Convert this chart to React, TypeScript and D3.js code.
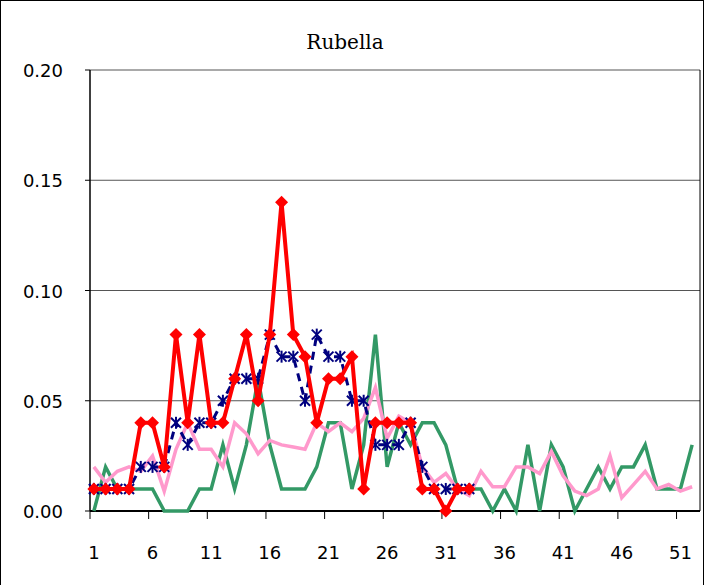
import React from "react";
import * as d3 from "d3";

const weeks = d3.range(1, 53);
const red = [0.01,0.01,0.01,0.01,0.04,0.04,0.02,0.08,0.04,0.08,0.04,0.04,0.06,0.08,0.05,0.08,0.14,0.08,0.07,0.04,0.06,0.06,0.07,0.01,0.04,0.04,0.04,0.04,0.01,0.01,0.0,0.01,0.01];
const blue = [0.01,0.01,0.01,0.01,0.02,0.02,0.02,0.04,0.03,0.04,0.04,0.05,0.06,0.06,0.06,0.08,0.07,0.07,0.05,0.08,0.07,0.07,0.05,0.05,0.03,0.03,0.03,0.04,0.02,0.01,0.01,0.01,0.01];
const green = [0,0.02,0.01,0.01,0.01,0.01,0,0,0,0.01,0.01,0.03,0.01,0.03,0.06,0.03,0.01,0.01,0.01,0.02,0.04,0.04,0.01,0.03,0.08,0.02,0.04,0.03,0.04,0.04,0.03,0.01,0.01,0.01,0,0.01,0,0.03,0,0.03,0.02,0,0.01,0.02,0.01,0.02,0.02,0.03,0.01,0.01,0.01,0.03];
const pink = [0.02,0.013,0.018,0.02,0.018,0.025,0.009,0.028,0.04,0.028,0.028,0.02,0.04,0.035,0.026,0.032,0.03,0.029,0.028,0.04,0.036,0.04,0.036,0.042,0.056,0.033,0.043,0.04,0.02,0.013,0.017,0.01,0.007,0.018,0.011,0.011,0.02,0.02,0.017,0.027,0.016,0.009,0.007,0.01,0.025,0.006,0.012,0.018,0.01,0.012,0.009,0.011];
const yTicks = [0, 0.05, 0.1, 0.15, 0.2];
const xLabels = [1, 6, 11, 16, 21, 26, 31, 36, 41, 46, 51];

const L = 90, R = 700, T = 70, B = 511;
const sans = "'DejaVu Sans', sans-serif";

export default function App() {
  const band = d3.scaleBand<number>().domain(weeks).range([L, R]);
  const x = (w: number) => (band(w) as number) + band.bandwidth() / 2 - 2;
  const y = d3.scaleLinear().domain([0, 0.2]).range([B, T]);
  const line = d3.line<number>().x((_, i) => x(i + 1)).y((d) => y(d));
  const star = (cx: number, cy: number, k: number) => {
    const s = 5;
    return (
      <g key={k} stroke="#00007f" strokeWidth={2}>
        <line x1={cx - s} y1={cy - s} x2={cx + s} y2={cy + s} />
        <line x1={cx - s} y1={cy + s} x2={cx + s} y2={cy - s} />
        <line x1={cx} y1={cy - s - 1} x2={cx} y2={cy + s + 1} />
      </g>
    );
  };
  return (
    <svg width={704} height={585} style={{ position: "absolute", left: 0, top: 0 }}>
      <rect x={0.5} y={0.5} width={703} height={600} fill="white" stroke="#000" />
      <text x={345} y={49} textAnchor="middle" style={{ fontFamily: "'DejaVu Serif'", fontSize: 20 }}>Rubella</text>
      {yTicks.map((t) => (
        <g key={t}>
          {t > 0 && <line x1={L} x2={R} y1={y(t)} y2={y(t)} stroke="#555" strokeWidth={1} />}
          <line x1={L - 5} x2={L} y1={y(t)} y2={y(t)} stroke="#000" />
          <text x={63} y={y(t) + 7} textAnchor="end" style={{ fontFamily: sans, fontSize: 18 }}>{t.toFixed(2)}</text>
        </g>
      ))}
      <line x1={L} x2={L} y1={T} y2={B} stroke="#000" strokeWidth={1.5} />
      <line x1={R} x2={R} y1={T} y2={B} stroke="#000" strokeWidth={1} />
      <line x1={L} x2={R} y1={B} y2={B} stroke="#000" strokeWidth={2} />
      {d3.range(0, 11).map((i) => {
        const xx = L + i * 5 * band.step();
        return <line key={i} x1={xx} x2={xx} y1={B} y2={B + 8} stroke="#000" />;
      })}
      {xLabels.map((w) => (
        <text key={w} x={x(w)} y={559} textAnchor="middle" style={{ fontFamily: sans, fontSize: 18 }}>{w}</text>
      ))}
      <path d={line(green) as string} fill="none" stroke="#339966" strokeWidth={3.5} />
      <path d={line(pink) as string} fill="none" stroke="#ff99cc" strokeWidth={3.5} />
      <path d={line(blue) as string} fill="none" stroke="#00007f" strokeWidth={3} strokeDasharray="8,6" />
      {blue.map((v, i) => star(x(i + 1), y(v), i))}
      <path d={line(red) as string} fill="none" stroke="#ff0000" strokeWidth={4} />
      {red.map((v, i) => {
        const cx = x(i + 1), cy = y(v), s = 6.5;
        return <path key={i} d={`M${cx},${cy - s}L${cx + s},${cy}L${cx},${cy + s}L${cx - s},${cy}Z`} fill="#ff0000" />;
      })}
    </svg>
  );
}
